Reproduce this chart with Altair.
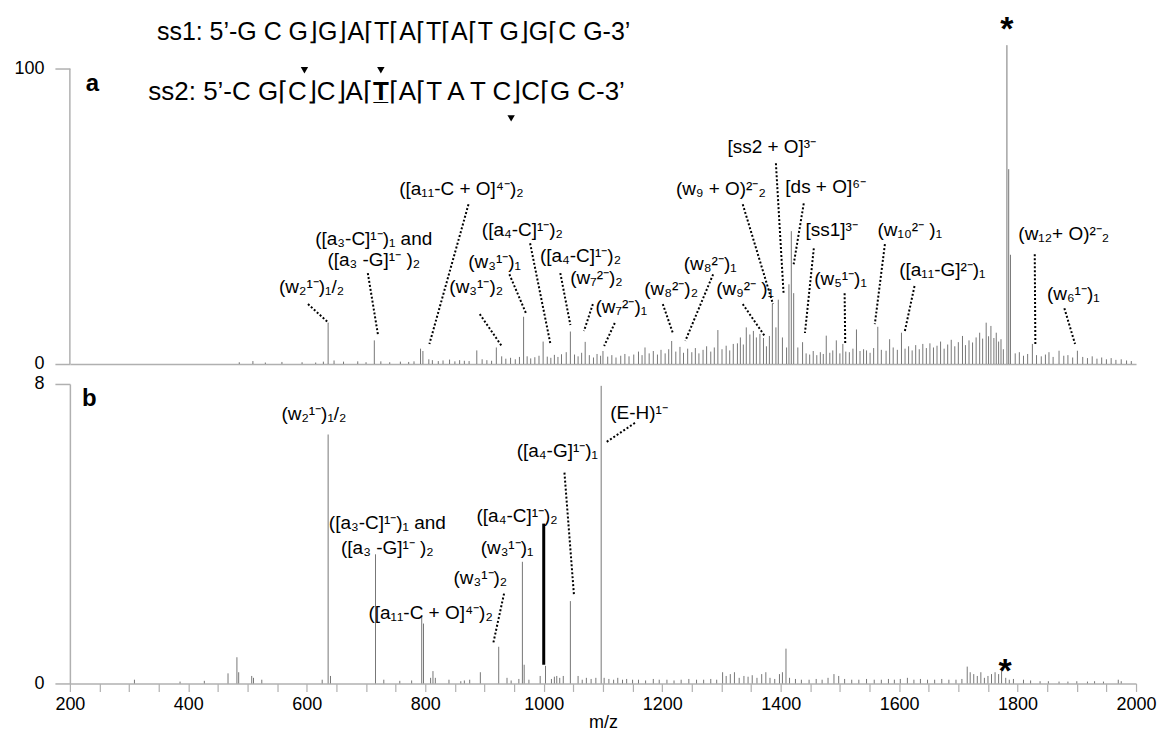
import altair as alt
import pandas as pd

FONT = "Liberation Sans"
X_DOMAIN = [200, 2000]
TOP_YMAX = 117

# ---------------- spectrum a (relative intensity, %) ----------------
top_peaks = [
    (486, 0.6), (509, 1.0), (530, 0.5), (558, 0.7), (592, 0.6), (615, 0.5), (628, 0.8),
    (636, 14.0), (646, 1.2), (662, 0.8), (686, 0.9), (700, 0.6), (714, 8.0), (725, 0.9),
    (740, 0.6), (758, 0.8), (772, 0.7), (781, 0.9), (792, 5.2), (796, 4.4), (806, 1.6),
    (812, 1.3), (822, 1.0), (830, 1.2), (841, 1.5), (850, 0.9), (858, 1.3), (866, 1.1),
    (874, 1.0), (887, 4.6), (896, 1.6), (904, 1.3), (912, 1.1), (920, 5.6), (929, 2.6),
    (936, 1.8), (944, 2.1), (952, 1.6), (959, 2.4), (966, 16.0), (972, 2.6), (978, 1.9),
    (985, 2.3), (992, 2.8), (999, 7.6), (1006, 2.5), (1012, 2.1), (1018, 3.1), (1024, 2.4),
    (1030, 3.3), (1038, 4.0), (1045, 11.0), (1052, 3.2), (1058, 2.6), (1064, 3.8),
    (1070, 7.5), (1077, 3.0), (1084, 2.2), (1090, 3.4), (1096, 2.8), (1100, 4.4),
    (1108, 2.5), (1115, 3.0), (1122, 2.2), (1130, 2.8), (1137, 3.4), (1144, 2.6),
    (1152, 3.2), (1160, 4.2), (1166, 3.0), (1171, 5.6), (1178, 3.6), (1185, 4.4),
    (1192, 3.2), (1198, 4.8), (1205, 3.6), (1211, 5.0), (1216, 7.8), (1223, 4.2),
    (1230, 5.8), (1236, 3.8), (1243, 5.2), (1250, 4.0), (1256, 5.4), (1262, 3.6),
    (1269, 4.8), (1275, 6.0), (1282, 4.2), (1288, 5.6), (1294, 11.5), (1301, 5.0),
    (1308, 6.2), (1314, 4.6), (1320, 6.8), (1327, 7.0), (1332, 9.0), (1337, 6.6),
    (1342, 12.4), (1348, 10.0), (1354, 11.2), (1359, 9.0), (1365, 10.2), (1371, 8.8),
    (1376, 6.0), (1381, 9.5), (1386, 20.5), (1392, 12.4), (1396, 21.8), (1403, 9.0),
    (1410, 5.6), (1414, 27.0), (1418, 45.0), (1422, 24.0), (1429, 5.6), (1437, 7.4),
    (1443, 3.6), (1449, 3.2), (1455, 4.4), (1461, 3.0), (1467, 4.0), (1472, 3.4),
    (1477, 9.6), (1483, 3.8), (1488, 4.6), (1494, 8.0), (1500, 3.6), (1505, 6.8),
    (1510, 4.2), (1516, 4.0), (1522, 5.2), (1528, 11.7), (1534, 4.4), (1540, 5.0),
    (1545, 4.6), (1551, 3.8), (1557, 5.4), (1564, 12.6), (1570, 4.8), (1578, 4.5),
    (1584, 8.4), (1590, 5.6), (1597, 4.8), (1604, 10.6), (1610, 5.2), (1616, 6.0),
    (1622, 4.6), (1628, 6.4), (1634, 5.0), (1640, 6.8), (1646, 5.4), (1652, 7.0),
    (1658, 5.6), (1664, 6.2), (1670, 7.6), (1676, 5.2), (1682, 6.6), (1688, 8.2),
    (1694, 6.0), (1700, 7.4), (1707, 9.5), (1712, 6.4), (1718, 8.0), (1724, 7.3),
    (1730, 9.0), (1736, 10.6), (1741, 8.6), (1747, 14.0), (1751, 9.4), (1755, 12.9),
    (1760, 8.8), (1764, 10.6), (1768, 7.6), (1772, 8.4), (1776, 5.0), (1782, 108.0),
    (1785, 66.0), (1788, 37.0), (1796, 3.6), (1803, 4.0), (1810, 2.8), (1817, 3.4),
    (1825, 6.8), (1832, 3.0), (1840, 2.6), (1847, 3.2), (1853, 4.0), (1860, 2.4),
    (1870, 4.5), (1878, 2.8), (1885, 3.0), (1893, 2.2), (1901, 4.5), (1910, 2.4),
    (1918, 2.0), (1926, 2.6), (1934, 1.8), (1942, 2.2), (1950, 1.6), (1958, 2.0),
    (1966, 1.4), (1975, 1.6), (1984, 1.2), (1992, 1.0),
]

# ---------------- spectrum b ----------------
bottom_peaks = [
    (309, 0.10), (386, 0.05), (427, 0.07), (467, 0.27), (482, 0.70), (485, 0.30),
    (507, 0.20), (510, 0.15), (524, 0.10), (626, 0.10), (636, 6.65), (640, 0.20),
    (716, 3.45), (730, 0.10), (757, 0.07), (777, 0.08), (794, 1.80), (797, 1.60),
    (809, 0.15), (813, 0.33), (817, 0.15), (840, 0.10), (860, 0.06), (866, 0.08),
    (875, 0.10), (893, 0.30), (924, 0.98), (938, 0.15), (945, 0.08), (958, 0.12),
    (964, 3.25), (967, 0.50), (975, 0.10), (994, 0.20), (1003, 0.47), (1013, 0.12),
    (1018, 0.18), (1022, 0.20), (1027, 0.15), (1033, 0.20), (1045, 2.20), (1058, 0.20),
    (1065, 0.10), (1072, 0.15), (1080, 0.12), (1088, 0.15), (1097, 7.95), (1102, 0.15),
    (1110, 0.12), (1118, 0.10), (1125, 0.15), (1133, 0.10), (1140, 0.12), (1150, 0.10),
    (1160, 0.10), (1172, 0.08), (1185, 0.12), (1195, 0.10), (1208, 0.10), (1220, 0.08),
    (1232, 0.10), (1245, 0.12), (1258, 0.10), (1270, 0.10), (1282, 0.12), (1292, 0.10),
    (1302, 0.30), (1308, 0.20), (1315, 0.25), (1322, 0.30), (1330, 0.15), (1338, 0.20),
    (1345, 0.18), (1352, 0.22), (1360, 0.15), (1368, 0.25), (1375, 0.30), (1382, 0.15),
    (1390, 0.12), (1398, 0.25), (1403, 0.30), (1409, 0.93), (1415, 0.15), (1425, 0.12),
    (1435, 0.10), (1448, 0.10), (1460, 0.12), (1470, 0.10), (1480, 0.15), (1490, 0.25),
    (1498, 0.20), (1508, 0.12), (1520, 0.10), (1532, 0.10), (1545, 0.12), (1558, 0.10),
    (1570, 0.10), (1582, 0.12), (1592, 0.10), (1602, 0.12), (1614, 0.15), (1625, 0.10),
    (1636, 0.12), (1648, 0.10), (1660, 0.10), (1672, 0.12), (1684, 0.10), (1696, 0.10),
    (1706, 0.12), (1715, 0.45), (1720, 0.30), (1726, 0.25), (1732, 0.20), (1738, 0.30),
    (1744, 0.15), (1750, 0.20), (1756, 0.25), (1762, 0.30), (1768, 0.25), (1773, 0.35),
    (1780, 0.15), (1786, 0.10), (1793, 0.12), (1810, 0.10), (1822, 0.08), (1838, 0.06),
    (1852, 0.06), (1870, 0.05), (1885, 0.05), (1900, 0.06), (1918, 0.05), (1930, 0.06),
    (1945, 0.05), (1970, 0.10), (1975, 0.06),
]

# ---------------- annotations: (text, m/z, intensity) ----------------
top_labels = [
    ("(w₂¹⁻)₁/₂", 608, 26.2),
    ("([a₃-C]¹⁻)₁ and", 713, 42.4),
    ("([a₃ -G]¹⁻ )₂", 713, 35.3),
    ("([a₁₁-C + O]⁴⁻)₂", 861, 59.3),
    ("([a₄-C]¹⁻)₂", 964, 45.5),
    ("(w₃¹⁻)₁", 917, 34.6),
    ("(w₃¹⁻)₂", 886, 26.2),
    ("([a₄-C]¹⁻)₂", 1062, 36.7),
    ("(w₇²⁻)₂", 1089, 29.2),
    ("(w₇²⁻)₁", 1131, 19.4),
    ("(w₈²⁻)₂", 1215, 25.5),
    ("(w₈²⁻)₁", 1281, 34.0),
    ("(w₉²⁻ )₁", 1340, 25.5),
    ("(w₉ + O)²⁻₂", 1299, 59.3),
    ("[ss2 + O]³⁻", 1385, 73.5),
    ("[ds + O]⁶⁻", 1476, 60.0),
    ("[ss1]³⁻", 1486, 45.5),
    ("(w₅¹⁻)₁", 1501, 28.9),
    ("(w₁₀²⁻ )₁", 1618, 45.5),
    ("([a₁₁-G]²⁻)₁", 1673, 31.9),
    ("(w₁₂+ O)²⁻₂", 1878, 44.1),
    ("(w₆¹⁻)₁", 1894, 23.8),
]
# leader lines: (m/z start, int start, m/z end, int end)
top_leaders = [
    (602, 20.3, 637, 13.9), (703, 30.8, 720, 10.1), (873, 54.1, 807, 6.8),
    (977, 40.9, 1011, 7.1), (942, 30.4, 970, 17.2), (892, 16.9, 929, 6.1),
    (1028, 30.8, 1045, 13.2), (1083, 20.3, 1068, 11.2), (1120, 13.9, 1102, 6.1),
    (1201, 20.3, 1218, 10.5), (1286, 30.4, 1239, 7.8), (1336, 20.3, 1373, 9.5),
    (1336, 54.1, 1387, 20.3), (1392, 68.0, 1405, 23.7), (1439, 54.4, 1422, 33.8),
    (1456, 39.2, 1441, 10.5), (1576, 40.6, 1559, 13.5), (1508, 24.0, 1509, 7.1),
    (1626, 26.4, 1609, 10.5), (1829, 37.2, 1830, 6.8), (1879, 18.9, 1897, 6.8),
]
bottom_labels = [
    ("(w₂¹⁻)₁/₂", 612, 7.2),
    ("([a₃-C]¹⁻)₁ and", 736, 4.29),
    ("([a₃ -G]¹⁻ )₂", 736, 3.63),
    ("([a₁₁-C + O]⁴⁻)₂", 809, 1.87),
    ("(w₃¹⁻)₂", 893, 2.83),
    ("(w₃¹⁻)₁", 938, 3.63),
    ("([a₄-C]¹⁻)₂", 955, 4.48),
    ("([a₄-G]¹⁻)₁", 1023, 6.2),
    ("(E-H)¹⁻", 1161, 7.23),
]
bottom_leaders = [
    (933, 2.40, 915, 1.09), (1035, 5.63, 1051, 2.37), (1154, 6.96, 1104, 6.43),
]
bottom_marker = [(1000, 0.5, 1000, 4.27)]

seq_ss1 = "ss1: 5’-G C G⌋G⌋A⌈T⌈A⌈T⌈A⌈T G⌋G⌈C G-3’"
seq_ss2_left = "ss2: 5’-C G⌈C⌋C⌋A⌈"
seq_ss2_mid = "T̲"
seq_ss2_right = "⌈A⌈T A T C⌋C⌈G C-3’"
seq_pos = {"ss1": (347, 112.3), "ss2_T": (725, 92.2)}
triangles = [(596, 99.5), (725, 99.5), (945, 83.2)]
panel_letters = [("a", 238, 95.0, "top"), ("b", 233, 7.6, "bottom")]
stars = [(1782, 113.0, "top"), (1779, 0.30, "bottom")]

PEAK_COLOR = "#767676"
AXIS_COLOR = "#b0b0b0"

# ---------------- axes (shared by every layer of a panel) ----------------
top_axis_x = alt.Axis(labels=False, ticks=False, grid=False, domainColor=AXIS_COLOR,
                      domainWidth=1.5, title=None)
top_axis_y = alt.Axis(values=[0, 100], format="d", domain=False, grid=False, tickSize=15,
                      tickColor=AXIS_COLOR, tickWidth=1.5, labelFontSize=18, labelPadding=11,
                      labelColor="black", labelFont=FONT, title=None)
bot_axis_x = alt.Axis(values=list(range(200, 2001, 50)),
                      labelExpr="datum.value % 200 == 0 ? '' + datum.value : ''",
                      grid=False, tickSize=8, tickColor=AXIS_COLOR, tickWidth=1.2,
                      domainColor=AXIS_COLOR, domainWidth=1.5, labelFontSize=18,
                      labelPadding=4, labelColor="black", labelFont=FONT,
                      labelOverlap=False, labelFlush=False,
                      title="m/z", titleFont=FONT, titleFontSize=18,
                      titleFontWeight="normal", titleColor="black", titlePadding=0)
bot_axis_y = alt.Axis(values=[0, 8], format="d", grid=False, tickSize=15,
                      tickColor=AXIS_COLOR, tickWidth=1.5, domainColor=AXIS_COLOR,
                      domainWidth=1.5, labelFontSize=18, labelPadding=11,
                      labelColor="black", labelFont=FONT, title=None)


def make_enc(axis_x, axis_y, ydom, xtitle=None):
    def xs(field="mz"):
        return alt.X(f"{field}:Q", scale=alt.Scale(domain=X_DOMAIN, nice=False, zero=False),
                     axis=axis_x, title=xtitle)

    def ys(field):
        return alt.Y(f"{field}:Q", scale=alt.Scale(domain=ydom, nice=False, zero=False),
                     axis=axis_y, title=None)
    return xs, ys


# ---- top panel ----
txs, tys = make_enc(top_axis_x, top_axis_y, [0, TOP_YMAX])
tp = pd.DataFrame(top_peaks, columns=["mz", "h"])
tp["base"] = 0.0

t_peaks = alt.Chart(tp).mark_rule(color=PEAK_COLOR, strokeWidth=1).encode(
    x=txs(), y=tys("base"), y2="h:Q")

t_yline = alt.Chart(pd.DataFrame({"mz": [X_DOMAIN[0]], "a": [0], "b": [100]})).mark_rule(
    color=AXIS_COLOR, strokeWidth=1.5).encode(x=txs(), y=tys("a"), y2="b:Q")

tl = pd.DataFrame(top_labels, columns=["text", "mz", "h"])
t_text = alt.Chart(tl).mark_text(font=FONT, fontSize=19, color="black").encode(
    x=txs(), y=tys("h"), text="text:N")

tld = pd.DataFrame(top_leaders, columns=["mz", "h", "mz2", "h2"])
t_lead = alt.Chart(tld).mark_rule(color="black", strokeWidth=2, strokeDash=[2, 2]).encode(
    x=txs(), y=tys("h"), x2="mz2:Q", y2="h2:Q")

s1 = pd.DataFrame([{"text": seq_ss1, "mz": seq_pos["ss1"][0], "h": seq_pos["ss1"][1]}])
t_s1 = alt.Chart(s1).mark_text(font=FONT, fontSize=25, align="left", color="black").encode(
    x=txs(), y=tys("h"), text="text:N")

tx, ty = seq_pos["ss2_T"]
s2l = pd.DataFrame([{"text": seq_ss2_left, "mz": tx, "h": ty}])
t_s2l = alt.Chart(s2l).mark_text(font=FONT, fontSize=26, align="right", dx=-8,
                                 color="black").encode(x=txs(), y=tys("h"), text="text:N")
s2m = pd.DataFrame([{"text": seq_ss2_mid, "mz": tx, "h": ty}])
t_s2m = alt.Chart(s2m).mark_text(font=FONT, fontSize=26, fontWeight="bold", align="center",
                                 color="black").encode(x=txs(), y=tys("h"), text="text:N")
s2r = pd.DataFrame([{"text": seq_ss2_right, "mz": tx, "h": ty}])
t_s2r = alt.Chart(s2r).mark_text(font=FONT, fontSize=26, align="left", dx=8,
                                 color="black").encode(x=txs(), y=tys("h"), text="text:N")

tri = pd.DataFrame(triangles, columns=["mz", "h"])
t_tri = alt.Chart(tri).mark_point(shape="triangle-down", filled=True, size=55, color="black",
                                  opacity=1).encode(x=txs(), y=tys("h"))

let = pd.DataFrame(panel_letters, columns=["text", "mz", "h", "panel"])
st = pd.DataFrame(stars, columns=["mz", "h", "panel"])
st["text"] = "*"

t_let = alt.Chart(let[let.panel == "top"]).mark_text(
    font=FONT, fontSize=24, fontWeight="bold", color="black").encode(
    x=txs(), y=tys("h"), text="text:N")
t_star = alt.Chart(st[st.panel == "top"]).mark_text(
    font=FONT, fontSize=34, fontWeight="bold", color="black").encode(
    x=txs(), y=tys("h"), text="text:N")

top = alt.layer(t_peaks, t_yline, t_lead, t_text, t_s1, t_s2l, t_s2m, t_s2r, t_tri,
                t_let, t_star).properties(width=1068, height=346)

# ---- bottom panel ----
bxs, bys = make_enc(bot_axis_x, bot_axis_y, [0, 8], xtitle="m/z")
bp = pd.DataFrame(bottom_peaks, columns=["mz", "h"])
bp["base"] = 0.0

b_peaks = alt.Chart(bp).mark_rule(color=PEAK_COLOR, strokeWidth=1).encode(
    x=bxs(), y=bys("base"), y2="h:Q")

bl = pd.DataFrame(bottom_labels, columns=["text", "mz", "h"])
b_text = alt.Chart(bl).mark_text(font=FONT, fontSize=19, color="black").encode(
    x=bxs(), y=bys("h"), text="text:N")
bld = pd.DataFrame(bottom_leaders, columns=["mz", "h", "mz2", "h2"])
b_lead = alt.Chart(bld).mark_rule(color="black", strokeWidth=2, strokeDash=[2, 2]).encode(
    x=bxs(), y=bys("h"), x2="mz2:Q", y2="h2:Q")
bm = pd.DataFrame(bottom_marker, columns=["mz", "h", "mz2", "h2"])
b_mark = alt.Chart(bm).mark_rule(color="black", strokeWidth=3).encode(
    x=bxs(), y=bys("h"), x2="mz2:Q", y2="h2:Q")
b_let = alt.Chart(let[let.panel == "bottom"]).mark_text(
    font=FONT, fontSize=24, fontWeight="bold", color="black").encode(
    x=bxs(), y=bys("h"), text="text:N")
b_star = alt.Chart(st[st.panel == "bottom"]).mark_text(
    font=FONT, fontSize=34, fontWeight="bold", color="black").encode(
    x=bxs(), y=bys("h"), text="text:N")

bottom = alt.layer(b_peaks, b_lead, b_mark, b_text, b_let, b_star).properties(
    width=1068, height=300)

chart = alt.vconcat(top, bottom, spacing=20, bounds="flush").properties(
    padding={"left": 13, "top": 12, "right": 0, "bottom": 5},
    background="white",
).configure_view(stroke=None).configure_axis(labelFont=FONT, titleFont=FONT)

chart.save("out.html", embed_options={"renderer": "svg", "actions": False})
